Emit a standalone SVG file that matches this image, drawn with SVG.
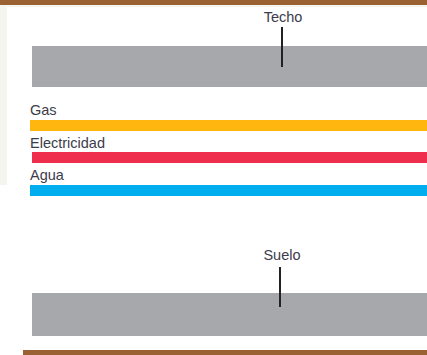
<svg xmlns="http://www.w3.org/2000/svg" width="427" height="355" viewBox="0 0 427 355">
  <style>
    .lbl { font-family: "Liberation Sans", Arial, sans-serif; font-size: 14.5px; fill: #3c3c4a; }
    .slab { fill: #a7a8ab; }
    .tick { stroke: #222222; stroke-width: 2; }
    .brown { fill: #9a6232; }
  </style>
  <rect x="0" y="0" width="427" height="355" fill="#ffffff"/>
  <rect x="0" y="5" width="427" height="2" fill="#f5f5ef"/>
  <rect x="0" y="5" width="7" height="180" fill="#f5f5ef"/>
  <rect class="brown" x="0" y="0" width="427" height="5"/>
  <rect class="brown" x="23" y="350" width="404" height="5"/>

  <g id="techo">
    <rect class="slab" x="32" y="46" width="395" height="41"/>
    <text class="lbl" x="283" y="22" text-anchor="middle">Techo</text>
  </g>
  <g id="gas">
    <text class="lbl" x="30" y="115">Gas</text>
    <rect x="30" y="120" width="397" height="11" fill="#ffb60f"/>
  </g>
  <g id="electricidad">
    <text class="lbl" x="30" y="148">Electricidad</text>
    <rect x="32" y="152" width="395" height="11" fill="#ef2e4e"/>
  </g>
  <g id="agua">
    <text class="lbl" x="30" y="180">Agua</text>
    <rect x="30" y="185" width="397" height="11" fill="#00aeef"/>
  </g>
  <g id="suelo">
    <rect class="slab" x="32" y="293" width="395" height="43"/>
    <text class="lbl" x="282" y="260" text-anchor="middle">Suelo</text>
  </g>
  <g id="connectors">
    <line class="tick" x1="282" y1="27" x2="282" y2="67"/>
    <line class="tick" x1="280" y1="267" x2="280" y2="307"/>
  </g>
</svg>
